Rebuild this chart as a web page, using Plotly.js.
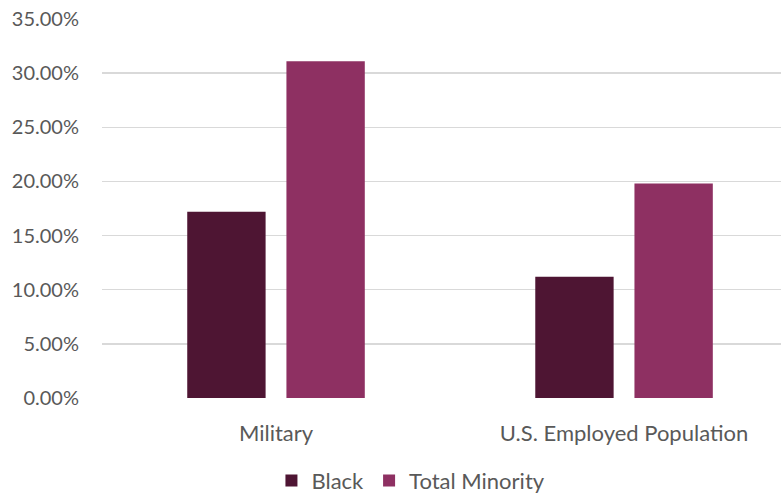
<!DOCTYPE html>
<html>
<head>
<meta charset="utf-8">
<script src="https://cdn.plot.ly/plotly-3.0.1.min.js"></script>
<style>html,body{margin:0;padding:0;background:#fff;}#chart{width:781px;height:493px;}</style>
</head>
<body>
<div id="chart"></div>
<script>
const categories = ["Military", "U.S. Employed Population"];
const seriesNames = ["Black", "Total Minority"];
const blackValues = [0.172, 0.112];
const totalMinorityValues = [0.311, 0.198];
const colors = ["#4E1533", "#8E3062"];

const traces = [
  {type: "bar", name: seriesNames[0], x: categories, y: blackValues, marker: {color: colors[0]}},
  {type: "bar", name: seriesNames[1], x: categories, y: totalMinorityValues, marker: {color: colors[1]}}
];

const layout = {
  width: 781, height: 493,
  margin: {l: 102, r: 0, t: 19, b: 94.5},
  paper_bgcolor: "#fff", plot_bgcolor: "#fff",
  font: {family: "Lato, sans-serif", size: 20, color: "#595959"},
  barmode: "group", bargap: 0.43, bargroupgap: 0.21,
  xaxis: {type: "category", range: [-0.5, 1.451], showgrid: false, zeroline: false, showline: false, ticks: "outside", ticklen: 16, tickcolor: "rgba(0,0,0,0)", tickfont: {size: 22, color: "#595959"}},
  yaxis: {range: [0, 0.35], dtick: 0.05, tickformat: ".2%", showgrid: true, gridcolor: "#d9d9d9", gridwidth: 1.3, zeroline: false, showline: false, ticks: "outside", ticklen: 18, tickcolor: "rgba(0,0,0,0)", tickfont: {size: 20, color: "#595959"}},
  showlegend: true,
  legend: {orientation: "h", x: 0.455, xanchor: "center", yref: "container", y: 0.025, yanchor: "middle", font: {size: 22, color: "#595959"}, itemwidth: 30, traceorder: "normal"}
};

Plotly.newPlot("chart", traces, layout, {displayModeBar: false, staticPlot: true});
</script>
</body>
</html>
